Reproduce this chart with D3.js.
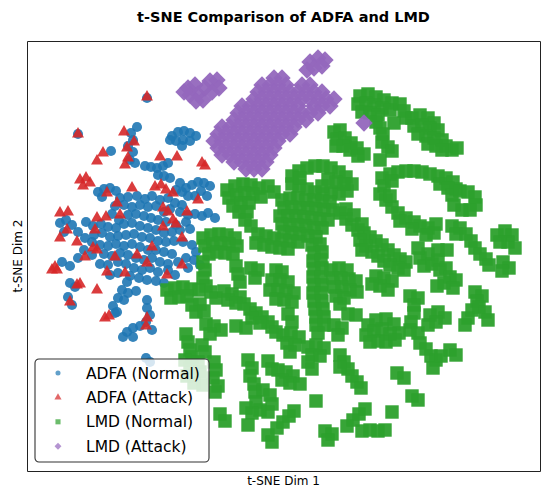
<!DOCTYPE html>
<html><head><meta charset="utf-8">
<script src="https://cdn.jsdelivr.net/npm/d3@7"></script>
<style>body{margin:0;background:#fff}svg{display:block}text{font-family:"DejaVu Sans",sans-serif;fill:#000}</style>
</head><body><svg id="c" width="550" height="487"></svg>
<script>
// t-SNE embedding values (arbitrary units)
const adfaNormal=[[147,402],[137,373],[131,367],[133,360],[128,354],[133,348],[130,340],[135,337],[111,349],[78,366],
[172,364],[178,368],[184,369],[190,367],[196,364],[176,359],[183,360],[190,359],[182,354],[170,360],
[145,334],[151,333],[157,332],[163,334],[168,337],[158,325],[164,324],[170,322],
[180,317],[186,312],[192,315],[198,318],[204,317],[210,314],[201,309],[195,304],[207,304],[188,304],[182,308],[176,310],
[98,308],[104,311],[110,312],[116,309],[102,303],
[120,302],[128,303],[137,304],[145,301],[152,304],[160,300],[168,302],[175,297],[182,295],
[115,294],[124,295],[132,293],[140,295],[148,293],[156,294],[164,288],[170,291],[180,288],[188,285],[195,286],[202,284],[208,287],[215,282],
[112,286],[119,280],[128,285],[136,286],[144,284],[151,282],[158,280],[166,278],[176,275],[186,278],
[101,276],[108,273],[116,272],[124,276],[132,277],[140,274],[148,272],[156,270],[164,267],[172,268],[180,270],[190,271],
[86,278],[93,274],[94,265],[102,267],[110,263],[118,264],[126,265],[134,266],[142,263],[150,262],[158,259],[166,258],[174,259],[183,258],
[60,277],[66,280],[72,275],[64,268],[78,268],[85,262],[92,258],[100,255],[108,254],[116,256],[124,254],[132,256],[140,253],[148,250],[156,250],[164,248],[172,246],
[84,250],[92,245],[104,246],[112,244],[120,247],[128,245],[136,242],[144,240],[152,242],[160,238],[168,236],[178,238],[186,242],
[100,236],[108,235],[118,238],[126,236],[134,232],[142,230],[150,232],[158,228],[168,230],[175,225],
[110,225],[118,227],[130,224],[139,222],[147,220],[156,219],[164,217],
[62,238],[70,234],[78,242],
[192,255],[196,248],[194,240],[200,235],[188,232],
[127,218],[122,210],[128,207],[118,202],[124,200],[113,194],[115,187],[136,209],[147,200],[147,192],[150,185],[146,178],[140,174],[133,172],[127,168],[123,163],[133,163],[152,170],[70,217],[75,213],[68,203],[72,195],[117,188],[146,142],[150,138]];

const adfaAttack=[[147,403],[78,366],[124,368],[134,358],[127,352],[128,342],[125,335],[103,347],[97,339],[160,343],[177,343],[202,337],[205,334],
[80,320],[86,322],[90,317],[83,314],
[107,307],[132,312],[155,313],[161,315],[166,310],[173,307],[198,300],
[117,297],[120,285],[60,287],[68,288],[67,270],[60,262],[77,258],[97,282],[95,270],[93,252],[97,250],[106,283],[163,292],[168,288],[173,280],[176,276],[187,288],[163,273],[182,262],[152,253],[137,245],[115,243],[85,243],[147,237],[182,235],[125,227],[107,228],[167,225],[52,230],[57,230],[55,233],[77,215],[80,216],[97,210],[70,198],[105,182],[109,184],[147,182],[146,174]];

const lmdNormal=[[360,404],[368,406],[376,403],[384,400],[392,397],[358,396],[366,397],[374,395],[382,392],[390,390],[362,388],[370,387],[378,385],[376,378],[380,372],[383,366],[400,396],[404,389],[406,382],[394,377],[382,358],[388,353],[392,349],[380,340],
[412,382],[420,385],[428,382],[434,377],[414,374],[422,375],[430,372],[438,370],[418,366],[426,364],[434,362],[442,360],[428,356],[436,354],[446,354],[452,350],[442,350],[457,352],
[334,368],[340,370],[337,361],[345,362],[351,357],[343,354],[350,350],[357,352],[358,344],[364,346],[336,354],
[292,324],[299,329],[307,332],[315,334],[323,334],[331,332],[339,328],[346,323],[352,316],[347,309],[339,306],[331,308],[323,306],[315,308],[307,311],[299,314],[292,316],[300,322],[328,321],[336,318],[344,316],[322,314],
[227,310],[235,314],[243,316],[251,315],[259,312],[268,314],[274,308],[229,302],[237,305],[245,307],[253,306],[261,303],[233,294],[241,297],[249,297],[239,288],[247,288],[245,280],[251,274],
[282,300],[290,302],[298,302],[306,300],[314,300],[322,299],[330,298],[284,292],[292,293],[300,292],[308,292],[316,291],[324,290],[333,290],[340,287],[280,284],[288,284],[296,284],[304,283],[312,282],[320,281],[328,280],[346,281],[282,276],[290,275],[298,275],[306,274],[314,272],[322,272],[352,275],[358,270],[284,268],[292,267],[300,266],[308,264],[316,263],[364,267],[370,263],[258,266],[266,264],[274,262],[282,260],[290,259],[298,258],[256,257],[264,255],[272,253],[280,252],[288,251],
[376,259],[382,255],[388,250],[394,245],[400,241],[406,238],[346,291],[354,285],[362,276],[360,260],[366,254],[372,248],[378,244],[384,239],[390,235],[398,232],[404,230],[376,224],[384,222],[392,219],[380,214],[388,210],[372,216],[362,250],
[382,322],[390,326],[398,328],[406,329],[414,329],[422,328],[430,326],[438,324],[446,322],[453,318],[456,311],[384,314],[392,319],[440,316],[448,312],[380,306],[386,300],[392,293],[398,287],[406,282],[414,278],[420,274],[428,272],[434,267],[426,265],[390,304],[412,271],[400,279],[436,276],
[452,305],[460,309],[468,308],[475,303],[476,295],[470,290],[462,290],[454,295],
[452,274],[460,272],[456,266],
[466,266],[471,259],[475,252],[480,246],[486,241],[489,235],
[497,265],[505,269],[512,265],[508,258],[500,258],[515,252],[503,238],[509,232],[502,229],
[475,208],[482,204],[477,199],
[468,182],[472,190],[479,193],[485,188],[488,180],[465,175],
[420,242],[428,246],[424,234],[432,236],[438,240],[440,230],[446,232],[450,223],[456,220],[444,217],[438,250],[447,250],[437,214],[453,212],[418,252],
[410,204],[418,202],[414,195],[414,187],[411,178],[410,170],[418,167],
[430,185],[438,188],[445,182],[436,178],[428,175],
[420,157],[426,151],[431,144],[436,140],[433,132],[441,144],[450,150],[456,145],
[368,175],[376,180],[386,181],[394,176],[399,167],[366,165],[374,169],[382,171],[390,166],[378,159],[386,158],[370,158],[395,160],
[397,127],[404,122],[412,104],[418,100],[392,88],[362,69],[370,70],[378,69],[385,70],
[203,262],[211,265],[219,266],[227,265],[235,262],[205,254],[213,256],[221,257],[229,256],[237,254],[209,246],[217,248],[225,247],[233,246],
[203,238],[205,230],[203,222],[206,214],
[167,210],[175,212],[183,213],[191,211],[199,210],[211,208],[171,202],[179,203],[187,204],[216,202],
[192,195],[200,196],[196,188],[204,189],
[224,209],[232,206],[240,203],[228,200],[236,197],[244,196],[250,191],[256,187],[262,183],[268,178],[272,173],[252,182],[260,177],
[236,234],[238,226],[240,218],
[251,232],[258,230],[255,222],
[206,176],[214,174],[221,170],[210,166],
[186,166],[188,158],[190,150],[192,143],
[236,174],[246,172],
[276,230],[282,228],[272,220],[280,220],[288,218],[270,210],[278,210],[286,209],[294,207],[276,201],[284,200],[292,198],
[288,186],[292,178],
[283,165],[291,167],[299,163],[287,157],[295,155],[290,148],
[312,255],[320,256],[314,247],[322,248],[313,239],[321,240],[314,231],[322,232],[313,223],[321,223],[314,215],[322,215],[313,207],[321,207],[314,199],[322,199],[315,191],[323,191],[316,183],[324,183],[316,175],[324,175],[318,167],
[331,230],[339,232],[347,230],[333,222],[341,222],[349,221],[356,219],[334,213],[342,213],[350,210],[357,208],[336,204],[344,202],[340,196],
[348,186],[356,185],
[308,153],[316,155],[324,152],[312,145],[320,144],[308,138],[312,131],
[334,175],[342,172],[338,165],[276,168],
[202,155],[205,148],
[185,140],[190,132],[187,124],[194,117],[198,138],[200,128],[203,115],
[214,138],[216,130],[213,122],[218,114],[215,108],
[248,140],[252,132],[250,124],[254,116],[268,139],[272,131],
[278,130],[286,128],[293,124],[282,120],[290,117],[300,116],
[255,108],[263,110],[270,105],[256,98],[272,96],[260,90],[268,88],[252,87],[246,92],
[220,86],[225,79],[248,75],[268,65],[272,58],
[277,72],[283,78],[289,84],[294,89],[316,99],
[340,145],[344,138],[348,131],[352,124],[357,118],[361,112],[340,133],
[347,74],[353,80],[359,86],[365,91],
[325,69],[332,66],[328,60]];

const lmdAttack=[[274,422],[282,422],
[262,415],[270,415],[278,415],[286,415],[302,415],[310,415],
[258,408],[266,408],[274,408],[282,408],[290,408],[298,408],[306,408],[314,408],[322,408],
[254,401],[262,401],[270,401],[278,401],[286,401],[294,401],[302,401],[310,401],[318,401],[326,401],[334,401],
[242,394],[250,394],[258,394],[266,394],[274,394],[282,394],[290,394],[298,394],[314,394],[322,394],[330,394],
[238,387],[246,387],[254,387],[262,387],[270,387],[278,387],[286,387],[294,387],[302,387],[310,387],[318,387],
[234,380],[242,380],[250,380],[258,380],[266,380],[274,380],[282,380],[290,380],[298,380],[306,380],
[222,373],[230,373],[238,373],[246,373],[254,373],[262,373],[270,373],[278,373],[286,373],[294,373],
[218,366],[226,366],[234,366],[242,366],[250,366],[258,366],[266,366],[274,366],[282,366],[290,366],
[214,359],[222,359],[230,359],[238,359],[246,359],[254,359],[262,359],[270,359],[278,359],
[218,352],[226,352],[234,352],[242,352],[250,352],[258,352],[266,352],[274,352],
[222,345],[230,345],[238,345],[246,345],[254,345],[262,345],[270,345],
[234,338],[242,338],[250,338],[258,338],[266,338],
[246,331],[254,331],[262,331],
[188,412],[195,415],[190,405],[198,406],[203,400],[205,412],[210,419],[217,420],[219,412],[212,408],[196,399],[184,408],
[310,438],[318,442],[325,440],[314,432],[322,434],[307,430],
[364,377]];

const seriesNames=["ADFA (Normal)","ADFA (Attack)","LMD (Normal)","LMD (Attack)"];
const titleText="t-SNE Comparison of ADFA and LMD";
const xLabelText="t-SNE Dim 1";
const yLabelText="t-SNE Dim 2";

const W=550,H=487,m={l:27,r:10,t:41,b:16};
const x=d3.scaleLinear().domain([27,540]).range([m.l,W-m.r]);
const y=d3.scaleLinear().domain([29,459]).range([H-m.b,m.t]);

const series=[
 {name:seriesNames[0],data:adfaNormal,color:"#1f77b4",sym:d3.symbolCircle,size:80,rot:0,op:0.9,lsize:20},
 {name:seriesNames[1],data:adfaAttack,color:"#d62728",sym:d3.symbolTriangle,size:62,rot:0,op:0.9,lsize:22},
 {name:seriesNames[2],data:lmdNormal,color:"#2ca02c",sym:d3.symbolSquare,size:180,rot:0,op:0.95,lsize:26},
 {name:seriesNames[3],data:lmdAttack,color:"#9467bd",sym:d3.symbolSquare,size:150,rot:45,op:0.95,lsize:24}
];

const svg=d3.select("#c");
svg.append("rect").attr("width",W).attr("height",H).attr("fill","#fff");

const plot=svg.append("g");
series.forEach(s=>{
  plot.append("g").selectAll("path").data(s.data).join("path")
    .attr("d",d3.symbol(s.sym,s.size))
    .attr("transform",d=>`translate(${x(d[0])},${y(d[1])}) rotate(${s.rot})`)
    .attr("fill",s.color).attr("fill-opacity",s.op);
});

// frame via axes without ticks
const ax=svg.append("g").attr("fill","none");
ax.append("g").attr("transform",`translate(0,${H-m.b})`).call(d3.axisBottom(x).tickValues([]).tickSizeOuter(0));
ax.append("g").attr("transform",`translate(0,${m.t})`).call(d3.axisTop(x).tickValues([]).tickSizeOuter(0));
ax.append("g").attr("transform",`translate(${m.l},0)`).call(d3.axisLeft(y).tickValues([]).tickSizeOuter(0));
ax.append("g").attr("transform",`translate(${W-m.r},0)`).call(d3.axisRight(y).tickValues([]).tickSizeOuter(0));
ax.selectAll(".domain").attr("stroke","#222").attr("stroke-width",1);

// legend
const lg=svg.append("g").attr("transform","translate(35,359)");
lg.append("rect").attr("width",174).attr("height",103).attr("rx",4)
  .attr("fill","#fff").attr("fill-opacity",0.8).attr("stroke","#333").attr("stroke-width",1.1);
series.forEach((s,i)=>{
  const row=lg.append("g").attr("transform",`translate(0,${14+i*24.4})`);
  row.append("path").attr("d",d3.symbol(s.sym,s.lsize))
    .attr("transform",`translate(23,0) rotate(${s.rot})`)
    .attr("fill",s.color).attr("fill-opacity",0.7);
  row.append("text").attr("x",51).attr("y",5.6).attr("font-size","15.5px").text(s.name);
});

svg.append("text").attr("x",(m.l+W-m.r)/2).attr("y",22).attr("text-anchor","middle")
  .attr("font-size","14.5px").attr("font-weight","bold").text(titleText);
svg.append("text").attr("x",(m.l+W-m.r)/2).attr("y",485).attr("text-anchor","middle")
  .attr("font-size","12px").text(xLabelText);
svg.append("text").attr("transform",`translate(22,${(m.t+H-m.b)/2}) rotate(-90)`).attr("text-anchor","middle")
  .attr("font-size","12px").text(yLabelText);
</script></body></html>
